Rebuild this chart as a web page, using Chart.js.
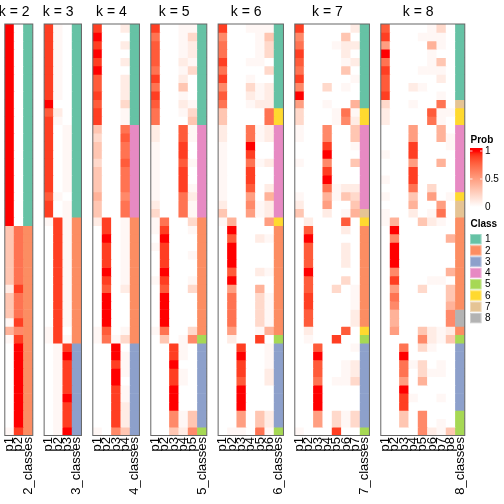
<!DOCTYPE html>
<html>
<head>
<meta charset="utf-8">
<script src="https://cdn.jsdelivr.net/npm/chart.js@4.4.0/dist/chart.umd.min.js"></script>
<style>
  body { margin: 0; background: #fff; width: 504px; height: 504px; overflow: hidden; position: relative; }
  canvas { position: absolute; top: 0; }
</style>
</head>
<body>
<script>
const kValues = [2, 3, 4, 5, 6, 7, 8];
const classColors = ['#66C2A5', '#FC8D62', '#8DA0CB', '#E78AC3', '#A6D854', '#FFD92F', '#E5C494', '#B3B3B3'];
const classNames = ['1', '2', '3', '4', '5', '6', '7', '8'];
const probTicks = [1, 0.5, 0];

// membership per row, one char per column: 0-9 tenths, x = 1, + = faint (~0.04)
const prob2 = [
  'x0','x0','x0','x0','x0','x0','x0','x0','x0','x0','x0','x0',
  'x0','x0','x0','x0','x0','x0','x0','x0','x0','x0','x0','x0',
  '37','37','37','37','37','37','37','19','37','37','37','+9','46','+9',
  '0x','0x','0x','0x','0x','0x','0x','0x','0x','0x','+9'
];
const class2 = '111111111111111111111111|2222222222222222222222222';

const prob3 = [
  '9+0','9+0','9+0','9+0','9+0','9+0','9+0','9+0','9+0','x00','810','9+0',
  '90+','90+','90+','90+','90+','90+','90+','90+','8+0','90+','90+',
  '+9+','09+','09+','09+','09+','09+','09+','09+','09+','09+','09+','09+','09+','+90','+9+',
  '0+9','0+x','0+9','0+9','0+9','0+9','0+x','0+9','0+9','0+9','0+x'
];
const class3 = '11111111111111111111111|222222222222222|33333333333';

const prob4 = [
  '9001','x000','9001','x000','9001','x000','8001','8001','9001','8002','900+','900+',
  '3007','2008','3007','3007','2008','3007','3007','3007','4006','3007','3007',
  '190+','090+','0x0+','090+','090+','090+','0x0+','090+','0801','0x00','0x00','0x00','0x00','+80+','+7+2',
  '00x0','00x+','009+','00x+','00x0','009+','009+','0091','0091','0091','+063'
];
const class4 = '111111111111|44444444444|222222222222222|33333333333';

const prob5 = [
  '900++','700+2','800+1','800+1','8001+','700+2','90010','70030','900+0','8001+','700+2','70003',
  '1008+','1008+','+0090','+0090','+008+','+0090','+0090','+009+','+0071','1007+','2007+',
  '+7002','+900+','0x000','+9000','0900+','09000','0x000','+900+','08002','0x000','0x000','0x000','0x000','+7002',
  '030+6',
  '009+0','009+0','00x00','009+0','009+0','00x00','00x00','00x00','006+3','006+3',
  '00316'
];
const class5 = '111111111111|44444444444|22222222222222|5|3333333333|5';

const prob6 = [
  '900+++','6000+3','7000+2','7000+2','900++0','700002','900+00','6002+1','8001+1','700+11',
  '300007','300007',
  '1007+1','1007+1','+00x00','+00900','+007+1','+00900','+00900','+00801','+00504','1006+1','3005+1',
  '+40005',
  '0x0000','08001+','0x0000','0x0000','0x0000','08001+','0x0000','050040','07002+','07002+','07002+','07002+','0500+4',
  '010090',
  '00900+','00x00+','00900+','009001','008001','00x000','00x000','00x000','005031','005031',
  '0++07+'
];
const class6 = '1111111111|66|44444444444|6|2222222222222|5|3333333333|5';

const prob7 = [
  '9000001','6000030','7000+11','9000010','80000+1','7000030','900000+','60020+0','x000000','500+004',
  '2000+7+','2000+61',
  '+006003','+006003','000900+','000x000','+006003','0009000','000x000','0007+11','+004+32','1005003',
  '30010+4',
  '0100080',
  '0800010','0x00000','0800010','0800010','0800010','0x00000','0800020','080020+','090000+','090000+','0800001','0800001',
  '0100080',
  '0+00900',
  '008000+','00x0000','00800+1','00800+1','0070++2','00x0000','00x0000','00x0000','00502+2','00502+2',
  '+000900'
];
const class7 = '1111111111|66|4444444444|7|6|222222222222|6|5|3333333333|5';

const prob8 = [
  '80000+20','9000+++0','500004+0','x0000+00','70000+30','9000+++0','80000010','8001+000','900000+0',
  '200+0070',
  '100008++','100007+0',
  '00050040','0005004+','0009000+','+0090000','00050040','00090000','+0090000','00070200',
  '+003050+',
  '00040050','+0010+70',
  '+40031+0','0x000000','06000004','0x000000','0x000000','0x000000','06000004','09000++0','05002003','07000003','06000004',
  '04000006','04000006',
  '050031+1',
  '000061+3',
  '00702+00','00x00000','007+20+0','00702++0','00504000','00x00000','009+00+0','00900000',
  '00306000','003060+0','000061+3'
];
const class8 = '111111111|7|66|44444444|6|77|22222222222|88|2|5|33333333|555';

const probSets = [prob2, prob3, prob4, prob5, prob6, prob7, prob8];
const classSets = [class2, class3, class4, class5, class6, class7, class8];

// layout
const PANEL_LEFT = 4.8, COL_W = 9.333, GAP = 11.333;
const TOP = 24, BOTTOM = 435.5, H = 504;
const FONT = '"Liberation Sans", Arial, Helvetica, sans-serif';
const LX = 470;

function cellValue(ch) {
  if (ch === 'x') return 1;
  if (ch === '+') return 0.04;
  return Number(ch) / 10;
}

// white -> red, interpolated in Lab like colorRamp2
function labToRgb(L, A, B) {
  const fy = (L + 16) / 116, fx = fy + A / 500, fz = fy - B / 200;
  const inv = t => t > 6 / 29 ? t * t * t : 3 * (6 / 29) * (6 / 29) * (t - 4 / 29);
  const X = 0.95047 * inv(fx), Y = inv(fy), Z = 1.08883 * inv(fz);
  const lin = [
    3.2406 * X - 1.5372 * Y - 0.4986 * Z,
    -0.9689 * X + 1.8758 * Y + 0.0415 * Z,
    0.0557 * X - 0.2040 * Y + 1.0570 * Z
  ];
  const out = lin.map(c => {
    c = c <= 0.0031308 ? 12.92 * c : 1.055 * Math.pow(c, 1 / 2.4) - 0.055;
    return Math.round(Math.max(0, Math.min(1, c)) * 255);
  });
  return `rgb(${out[0]},${out[1]},${out[2]})`;
}
function probColor(v) {
  return labToRgb(100 + (53.24 - 100) * v, 80.09 * v, 67.20 * v);
}

function drawLegend(ctx) {
  ctx.fillStyle = '#000';
  ctx.textAlign = 'left';
  ctx.textBaseline = 'middle';
  ctx.font = 'bold 10px ' + FONT;
  ctx.fillText('Prob', LX + 0.5, 140);

  const g = ctx.createLinearGradient(0, 151, 0, 207);
  for (let i = 0; i <= 20; i++) g.addColorStop(i / 20, probColor(1 - i / 20));
  ctx.fillStyle = g;
  ctx.fillRect(LX, 148, 12.5, 62);

  ctx.strokeStyle = 'rgba(255,255,255,0.8)';
  ctx.lineWidth = 1;
  ctx.font = '10px ' + FONT;
  probTicks.forEach(v => {
    const y = 207 - 56 * v;
    ctx.beginPath();
    ctx.moveTo(LX, y); ctx.lineTo(LX + 2.5, y);
    ctx.moveTo(LX + 10, y); ctx.lineTo(LX + 12.5, y);
    ctx.stroke();
    ctx.fillStyle = '#000';
    ctx.fillText(String(v), LX + 15, y + 0.5);
  });

  ctx.font = 'bold 10px ' + FONT;
  ctx.fillText('Class', LX + 0.5, 224);
  ctx.font = '10px ' + FONT;
  classNames.forEach((name, i) => {
    const y = 234 + 11.27 * i;
    ctx.fillStyle = classColors[i];
    ctx.fillRect(LX, y, 11.5, 10.3);
    ctx.strokeStyle = 'rgba(255,255,255,0.35)';
    ctx.strokeRect(LX + 0.5, y + 0.5, 10.5, 9.3);
    ctx.fillStyle = '#000';
    ctx.fillText(name, LX + 15, y + 5.6);
  });
}

const panelPlugin = {
  id: 'panel',
  afterDatasetsDraw(chart, args, opts) {
    const { ctx, chartArea: a } = chart;
    const x = chart.scales.x;
    ctx.save();
    ctx.strokeStyle = '#666';
    ctx.lineWidth = 1;
    ctx.strokeRect(a.left, a.top, a.right - a.left, a.bottom - a.top);

    ctx.fillStyle = '#000';
    ctx.font = '14px ' + FONT;
    ctx.textAlign = 'center';
    ctx.textBaseline = 'alphabetic';
    const pMid = (x.getPixelForValue(0) + x.getPixelForValue(opts.k - 1)) / 2;
    ctx.fillText('k = ' + opts.k, pMid, 16);

    ctx.font = '13px ' + FONT;
    ctx.textAlign = 'right';
    ctx.textBaseline = 'middle';
    x.getLabels().forEach((lab, i) => {
      ctx.save();
      ctx.translate(x.getPixelForValue(i), a.bottom + 1.5);
      ctx.rotate(-Math.PI / 2);
      ctx.fillText(lab, 0, 0);
      ctx.restore();
    });

    if (opts.legend) {
      ctx.translate(-opts.offset, 0);
      drawLegend(ctx);
    }
    ctx.restore();
  }
};

let left = PANEL_LEFT;
kValues.forEach((k, idx) => {
  const rows = probSets[idx];
  const classes = classSets[idx].replace(/\|/g, '');
  const w = (k + 1) * COL_W;
  const cLeft = Math.floor(left) - 8;
  const cRight = k === 8 ? 504 : Math.ceil(left + w) + 8;

  const canvas = document.createElement('canvas');
  canvas.width = cRight - cLeft;
  canvas.height = H;
  canvas.style.left = cLeft + 'px';
  canvas.style.width = (cRight - cLeft) + 'px';
  canvas.style.height = H + 'px';
  document.body.appendChild(canvas);

  const labels = [];
  for (let j = 1; j <= k; j++) labels.push('p' + j);
  labels.push(k + '_classes');

  const datasets = rows.map((row, r) => ({
    data: labels.map(() => [r, r + 1]),
    backgroundColor: labels.map((_, j) =>
      j < k ? probColor(cellValue(row[j])) : classColors[Number(classes[r]) - 1]),
    grouped: false,
    barPercentage: 1,
    categoryPercentage: 1,
    borderWidth: 0
  }));

  new Chart(canvas, {
    type: 'bar',
    data: { labels, datasets },
    options: {
      responsive: false,
      animation: false,
      devicePixelRatio: 1,
      layout: {
        padding: { left: left - cLeft, right: cRight - (left + w), top: TOP, bottom: H - BOTTOM }
      },
      scales: {
        x: { display: false },
        y: { display: false, min: 0, max: rows.length, reverse: true }
      },
      plugins: {
        legend: { display: false },
        tooltip: { enabled: false },
        panel: { k, legend: k === 8, offset: cLeft }
      }
    },
    plugins: [panelPlugin]
  });

  left += w + GAP;
});
</script>
</body>
</html>
